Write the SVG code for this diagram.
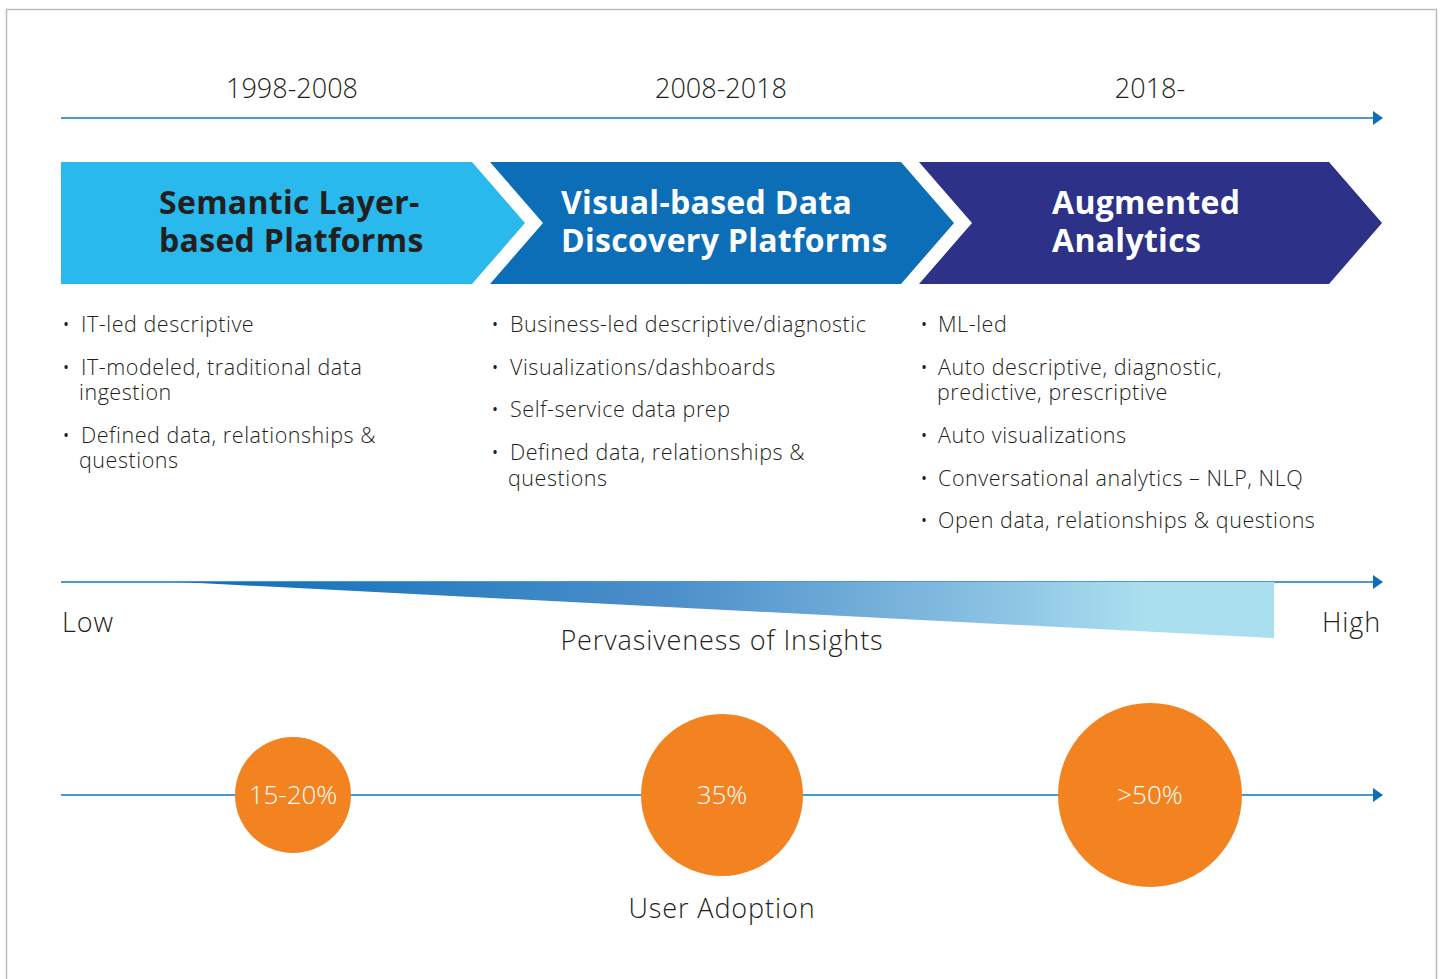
<svg xmlns="http://www.w3.org/2000/svg" width="1440" height="979" viewBox="0 0 1440 979">
<defs>
<style>
.t{font-family:"Open Sans","Liberation Sans",sans-serif;fill:#231f20;font-weight:300}
.yr{font-size:27px;text-anchor:middle}
.b{font-size:21.5px;letter-spacing:0.55px}
.l{font-size:27px;letter-spacing:0.9px}
.h{font-family:"Open Sans","Liberation Sans",sans-serif;font-weight:700;font-size:32px;letter-spacing:0.3px}
.ax{stroke:#4a98d2;stroke-width:2;fill:none}
.c{fill:#f38220}
.ct{font-family:"Open Sans","Liberation Sans",sans-serif;font-weight:300;font-size:26px;fill:#fff;text-anchor:middle}
</style>
<marker id="ah" viewBox="0 0 10 14" refX="9" refY="7" markerWidth="10" markerHeight="14" markerUnits="userSpaceOnUse" orient="auto">
<path d="M0,0 L10,7 L0,14 Z" fill="#0d6eb8"/>
</marker>
<linearGradient id="wg" x1="180" y1="0" x2="1274" y2="0" gradientUnits="userSpaceOnUse">
<stop offset="0" stop-color="#0d6eb8"/>
<stop offset="0.45" stop-color="#4d8fca"/>
<stop offset="0.75" stop-color="#8cc3e3"/>
<stop offset="0.88" stop-color="#aadff0"/>
<stop offset="1" stop-color="#aadff0"/>
</linearGradient>
</defs>
<rect x="6.5" y="9.5" width="1430" height="990" fill="#fff" stroke="#bdbdbd" stroke-width="1.5"/>

<g id="connectors">
<line class="ax" x1="61" y1="118" x2="1382" y2="118" marker-end="url(#ah)"/>
<line class="ax" x1="61" y1="582" x2="1382" y2="582" marker-end="url(#ah)"/>
<line class="ax" x1="61" y1="795" x2="1382" y2="795" marker-end="url(#ah)" stroke="#2f7dc0"/>
</g>

<g id="years">
<text class="t yr" x="292" y="98">1998-2008</text>
<text class="t yr" x="721" y="98">2008-2018</text>
<text class="t yr" x="1150" y="98">2018-</text>
</g>

<g id="phase1">
<path d="M61,162 H472 L525,223 L472,284 H61 Z" fill="#29b9ec"/>
<text class="h" fill="#231f20"><tspan x="159" y="214">Semantic Layer-</tspan><tspan x="159" y="252">based Platforms</tspan></text>
</g>
<g id="phase2">
<path d="M490,162 H901 L954,223 L901,284 H490 L543,223 Z" fill="#0d6eb8"/>
<text class="h" fill="#fff"><tspan x="561" y="214">Visual-based Data</tspan><tspan x="561" y="252">Discovery Platforms</tspan></text>
</g>
<g id="phase3">
<path d="M919,162 H1329 L1382,223 L1329,284 H919 L972,223 Z" fill="#2e3188"/>
<text class="h" fill="#fff"><tspan x="1052" y="214">Augmented</tspan><tspan x="1052" y="252">Analytics</tspan></text>
</g>

<g id="list1">
<text class="t b"><tspan x="62" y="332">•</tspan><tspan x="81" y="332">IT-led descriptive</tspan>
<tspan x="62" y="375">•</tspan><tspan x="81" y="375">IT-modeled, traditional data</tspan>
<tspan x="79" y="400">ingestion</tspan>
<tspan x="62" y="443">•</tspan><tspan x="81" y="443">Defined data, relationships &amp;</tspan>
<tspan x="79" y="468">questions</tspan></text>
</g>
<g id="list2">
<text class="t b"><tspan x="491" y="332">•</tspan><tspan x="510" y="332">Business-led descriptive/diagnostic</tspan>
<tspan x="491" y="375">•</tspan><tspan x="510" y="375">Visualizations/dashboards</tspan>
<tspan x="491" y="417">•</tspan><tspan x="510" y="417">Self-service data prep</tspan>
<tspan x="491" y="460">•</tspan><tspan x="510" y="460">Defined data, relationships &amp;</tspan>
<tspan x="508" y="486">questions</tspan></text>
</g>
<g id="list3">
<text class="t b"><tspan x="920" y="332">•</tspan><tspan x="938" y="332">ML-led</tspan>
<tspan x="920" y="375">•</tspan><tspan x="938" y="375">Auto descriptive, diagnostic,</tspan>
<tspan x="937" y="400">predictive, prescriptive</tspan>
<tspan x="920" y="443">•</tspan><tspan x="938" y="443">Auto visualizations</tspan>
<tspan x="920" y="486">•</tspan><tspan x="938" y="486">Conversational analytics – NLP, NLQ</tspan>
<tspan x="920" y="528">•</tspan><tspan x="938" y="528">Open data, relationships &amp; questions</tspan></text>
</g>

<g id="pervasiveness">
<path d="M180,582 H1274 V638 Z" fill="url(#wg)"/>
<text class="t l" x="62" y="632">Low</text>
<text class="t l" x="1381" y="632" text-anchor="end">High</text>
<text class="t l" x="722" y="650" text-anchor="middle">Pervasiveness of Insights</text>
</g>

<g id="adoption1"><circle class="c" cx="293" cy="795" r="58"/><text class="ct" x="293" y="804">15-20%</text></g>
<g id="adoption2"><circle class="c" cx="722" cy="795" r="81"/><text class="ct" x="722" y="804">35%</text></g>
<g id="adoption3"><circle class="c" cx="1150" cy="795" r="92"/><text class="ct" x="1150" y="804">&gt;50%</text></g>
<text class="t l" x="722" y="918" text-anchor="middle">User Adoption</text>
</svg>
